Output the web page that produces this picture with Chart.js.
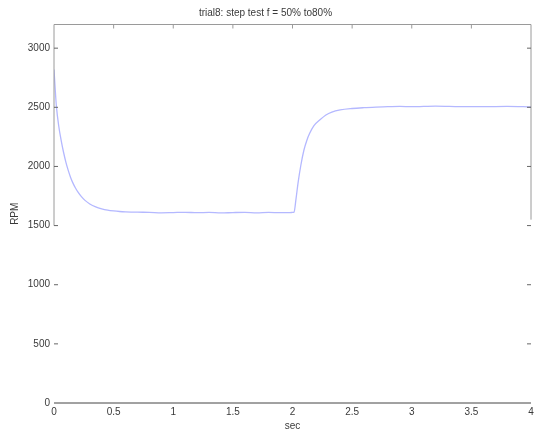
<!DOCTYPE html>
<html lang="en">
<head>
<meta charset="UTF-8">
<title>trial8 step test</title>
<script src="https://cdn.jsdelivr.net/npm/chart.js"></script>
<style>
  html, body { margin: 0; padding: 0; background: #fff; }
  #wrap { width: 534px; height: 432px; }
</style>
</head>
<body>
<div id="wrap"><canvas id="myChart" width="534" height="432"></canvas></div>
<script>
// values
const timeSec = [0, 0.01, 0.02, 0.04, 0.06, 0.08, 0.1, 0.12, 0.14, 0.16, 0.18, 0.2, 0.23, 0.26, 0.3, 0.35, 0.4, 0.45, 0.5,
  0.55, 0.6, 0.7, 0.8, 0.9, 1.0, 1.1, 1.2, 1.3, 1.4, 1.5, 1.6, 1.7, 1.8, 1.9, 1.98,
  2.0, 2.013, 2.03, 2.046, 2.07, 2.096, 2.12, 2.144, 2.18, 2.228, 2.28, 2.33, 2.4, 2.5, 2.6, 2.7,
  2.8, 2.9, 3.0, 3.2, 3.4, 3.6, 3.8, 4.0];
const rpm = [2820, 2655, 2510, 2340, 2220, 2120, 2035, 1965, 1905, 1857, 1818, 1785, 1745, 1713, 1683, 1658, 1642, 1631, 1624,
  1619, 1616, 1613, 1612, 1608, 1610, 1612, 1609, 1611, 1607, 1610, 1612, 1608, 1611, 1609, 1610,
  1611, 1614, 1730, 1857, 2010, 2139, 2220, 2280, 2345, 2392, 2435, 2460, 2478, 2490, 2497, 2502,
  2506, 2508, 2505, 2510, 2506, 2505, 2508, 2503];
const xTicks = [0, 0.5, 1, 1.5, 2, 2.5, 3, 3.5, 4];
const yTicks = [0, 500, 1000, 1500, 2000, 2500, 3000];

const txt = '#3a3a3a';
const fnt = { family: 'Liberation Sans, Arial, sans-serif', size: 10, weight: 'normal' };

// matlab-ish axes frame with inward ticks (upper box only, like the picture)
const frame = {
  id: 'frame',
  afterDatasetsDraw(chart) {
    const ctx = chart.ctx, x = chart.scales.x, y = chart.scales.y;
    const x0 = x.getPixelForValue(0), x1 = x.getPixelForValue(4);
    const yTop = y.getPixelForValue(3200), yBot = y.getPixelForValue(0);
    ctx.save();
    ctx.lineWidth = 1;
    ctx.strokeStyle = '#9a9a9a';
    ctx.beginPath();
    ctx.moveTo(x0, yTop); ctx.lineTo(x1, yTop);
    ctx.moveTo(x0, yTop); ctx.lineTo(x0, y.getPixelForValue(1500));
    ctx.moveTo(x1, yTop); ctx.lineTo(x1, y.getPixelForValue(1550));
    xTicks.slice(1, -1).forEach(v => {
      const px = x.getPixelForValue(v);
      ctx.moveTo(px, yTop); ctx.lineTo(px, yTop + 4);
    });
    ctx.stroke();
    ctx.strokeStyle = '#666';
    ctx.beginPath();
    yTicks.slice(1).forEach(v => {
      const py = y.getPixelForValue(v);
      ctx.moveTo(x0, py); ctx.lineTo(x0 + 4, py);
      ctx.moveTo(x1, py); ctx.lineTo(x1 - 4, py);
    });
    ctx.stroke();
    ctx.strokeStyle = '#444';
    ctx.beginPath();
    ctx.moveTo(x0, yBot); ctx.lineTo(x1, yBot);
    ctx.stroke();
    ctx.restore();
  }
};

new Chart(document.getElementById('myChart'), {
  type: 'line',
  data: {
    datasets: [{
      data: timeSec.map((t, i) => ({ x: t, y: rpm[i] })),
      borderColor: '#b4b8ff',
      borderWidth: 1.3,
      pointRadius: 0,
      cubicInterpolationMode: 'monotone'
    }]
  },
  options: {
    responsive: false,
    animation: false,
    layout: { padding: { left: 0, right: 3, top: 0, bottom: 0 } },
    plugins: {
      legend: { display: false },
      tooltip: { enabled: false },
      title: {
        display: true,
        text: 'trial8: step test f = 50% to80%',
        color: txt,
        font: fnt,
        padding: { top: 7, bottom: 5.5 }
      }
    },
    scales: {
      x: {
        type: 'linear', min: 0, max: 4,
        grid: { display: false, drawTicks: false },
        border: { display: false },
        afterBuildTicks: s => { s.ticks = xTicks.map(v => ({ value: v })); },
        afterFit: s => { s.height = 29; s.paddingLeft = 0; s.paddingRight = 0; },
        ticks: { color: txt, font: fnt, padding: 3, maxRotation: 0, callback: v => String(v) },
        title: { display: true, text: 'sec', color: txt, font: fnt, padding: 0 }
      },
      y: {
        type: 'linear', min: 0, max: 3200,
        grid: { display: false, drawTicks: false },
        border: { display: false },
        afterBuildTicks: s => { s.ticks = yTicks.map(v => ({ value: v })); },
        afterFit: s => { s.width = 54; s.paddingTop = 0; s.paddingBottom = 0; },
        ticks: { color: txt, font: fnt, padding: 4, callback: v => String(v) },
        title: { display: true, text: 'RPM', color: txt, font: fnt, padding: { top: 9, bottom: 0 } }
      }
    }
  },
  plugins: [frame]
});
</script>
</body>
</html>
